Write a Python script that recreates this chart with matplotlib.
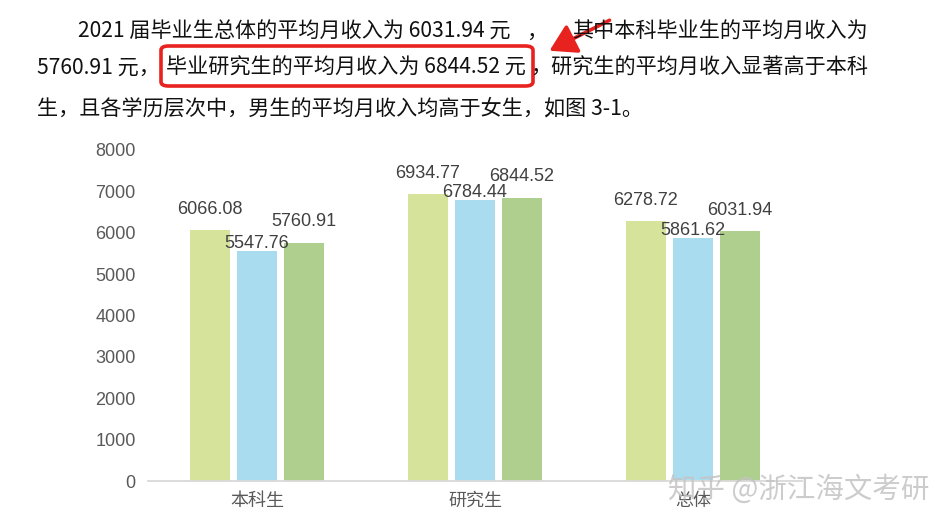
import matplotlib
matplotlib.use("Agg")
import matplotlib.pyplot as plt
import numpy as np
from matplotlib.patches import FancyBboxPatch, FancyArrowPatch

plt.rcParams['font.family'] = ['Liberation Sans', 'Noto Sans CJK SC', 'DejaVu Sans']

# Data
categories = ['本科生', '研究生', '总体']
series1 = [6066.08, 6934.77, 6278.72]
series2 = [5547.76, 6784.44, 5861.62]
series3 = [5760.91, 6844.52, 6031.94]
yticks = [0, 1000, 2000, 3000, 4000, 5000, 6000, 7000, 8000]

colors = ['#D5E49A', '#A9DCEE', '#AECF8D']

W, H = 947, 527
fig = plt.figure(figsize=(W / 100, H / 100), dpi=100)


def fx(px):
    return px / W


def fy(py):
    return 1 - py / H


# Chart area
ax = fig.add_axes([fx(148), fy(481), fx(802) - fx(148), fy(150) - fy(481)])
x = np.arange(len(categories))
step = 0.2156
width = 0.179
allSeries = [series1, series2, series3]
labelOffsets = [21, 8, 21]

for i, vals in enumerate(allSeries):
    pos = x + (i - 1) * step
    ax.bar(pos, vals, width=width, color=colors[i], zorder=2)
    for xp, v in zip(pos, vals):
        ax.annotate('%.2f' % v, (xp, v), xytext=(0, labelOffsets[i]),
                    textcoords='offset pixels', ha='center', va='center',
                    fontsize=13, color='#404040', zorder=3)

ax.set_xlim(-0.5, 2.5)
ax.set_ylim(0, 8000)
ax.set_yticks(yticks)
ax.set_xticks(x)
ax.set_xticklabels(categories, fontsize=13, color='#595959',
                   family=['Noto Sans CJK SC', 'DejaVu Sans'])
ax.tick_params(axis='y', length=0, pad=9, labelsize=13, labelcolor='#595959')
ax.tick_params(axis='x', length=0, pad=8)
for s in ['top', 'right', 'left']:
    ax.spines[s].set_visible(False)
ax.spines['bottom'].set_color('#D9D9D9')
ax.spines['bottom'].set_linewidth(1.3)

# Document text above the chart (justified lines split in pieces)
cjk = ['Noto Sans CJK SC', 'DejaVu Sans']
txtSize = 15.2
txtColor = '#111111'
fig.text(fx(78), fy(32), '2021 届毕业生总体的平均月收入为 6031.94 元',
         fontsize=txtSize, family=cjk, va='center', ha='left', color=txtColor)
fig.text(fx(526), fy(32), '，', fontsize=txtSize, family=cjk,
         va='center', ha='left', color=txtColor)
fig.text(fx(868), fy(32), '其中本科毕业生的平均月收入为',
         fontsize=txtSize, family=cjk, va='center', ha='right', color=txtColor)
fig.text(fx(37), fy(68), '5760.91 元，', fontsize=txtSize, family=cjk,
         va='center', ha='left', color=txtColor)
fig.text(fx(166), fy(68), '毕业研究生的平均月收入为 6844.52 元', fontsize=txtSize,
         family=cjk, va='center', ha='left', color=txtColor)
fig.text(fx(868), fy(68), '，研究生的平均月收入显著高于本科', fontsize=txtSize,
         family=cjk, va='center', ha='right', color=txtColor)
fig.text(fx(37), fy(108), '生，且各学历层次中，男生的平均月收入均高于女生，如图 3-1。',
         fontsize=txtSize, family=cjk, va='center', ha='left', color=txtColor)

# Red highlight box and arrow
box = FancyBboxPatch((fx(161), fy(86)), fx(533) - fx(161), fy(46) - fy(86),
                     boxstyle='round,pad=0,rounding_size=0.008',
                     transform=fig.transFigure, fill=False,
                     edgecolor='#E8231F', linewidth=2.6)
fig.add_artist(box)
arrow = FancyArrowPatch((fx(612), fy(19)), (fx(547), fy(52)),
                        transform=fig.transFigure,
                        arrowstyle='-|>,head_length=10,head_width=6',
                        color='#E8231F', linewidth=2.6, mutation_scale=1.6)
fig.add_artist(arrow)

# Watermark
fig.text(fx(668), fy(490), '知乎 @浙江海文考研', fontsize=20.5, family=cjk,
         va='center', ha='left', color='#C4C4C4', alpha=0.85)

fig.savefig('out.png', dpi=100)
